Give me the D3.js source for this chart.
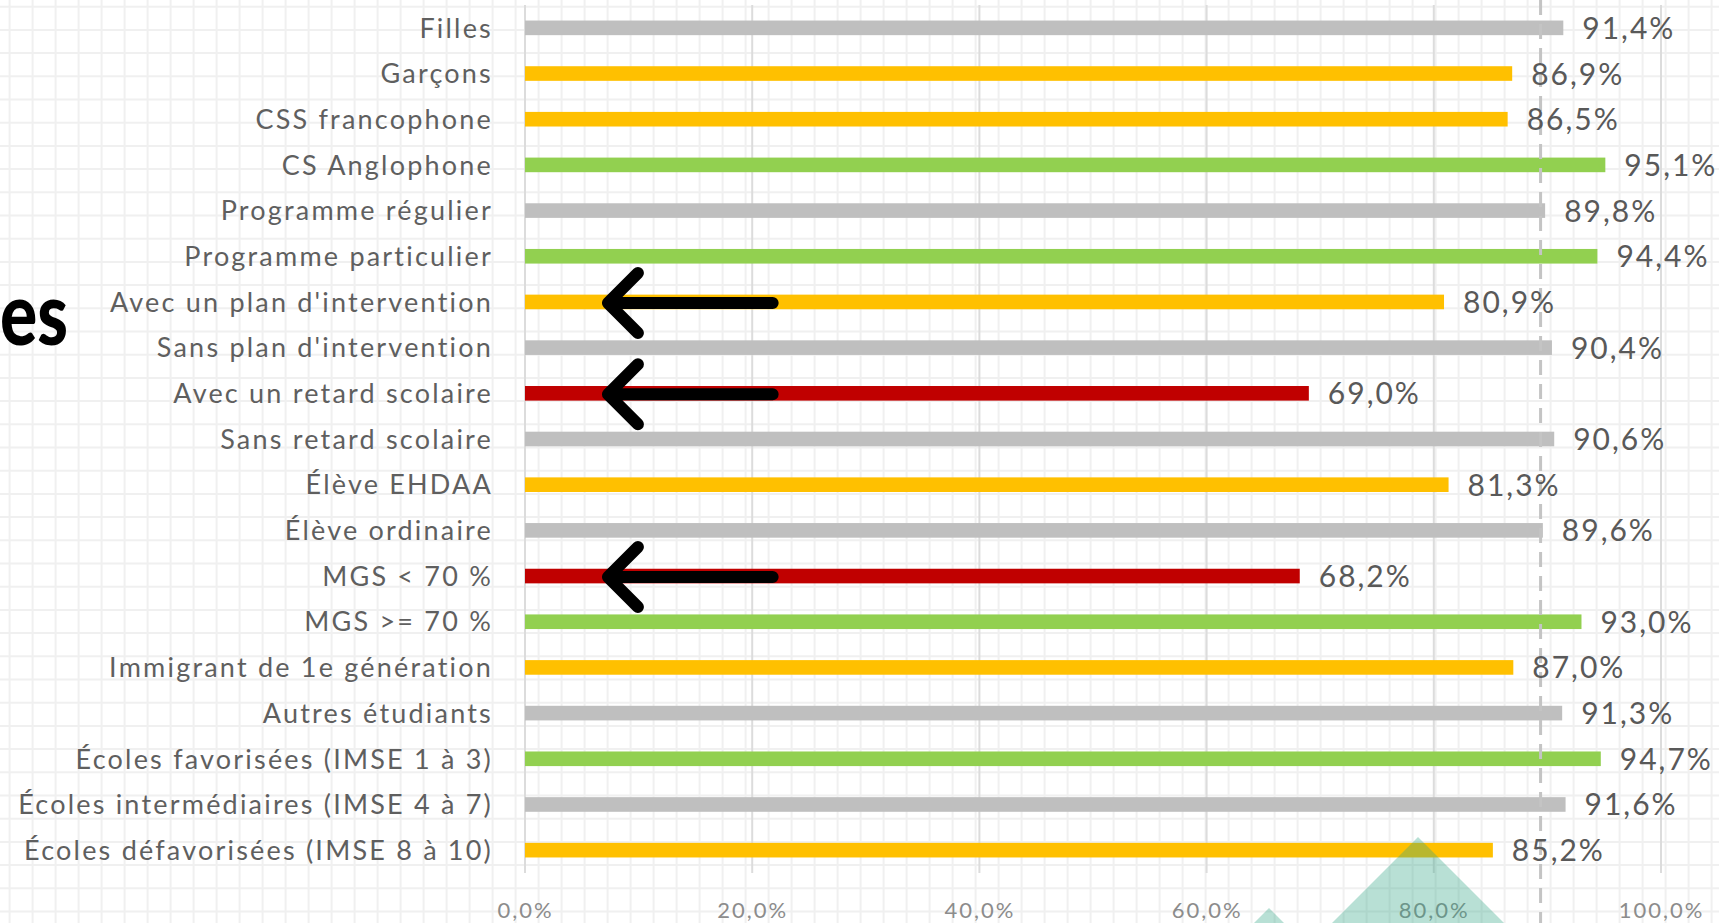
<!DOCTYPE html>
<html lang="fr">
<head>
<meta charset="utf-8">
<script src="https://cdn.jsdelivr.net/npm/d3@7"></script>
<style>
  html, body { margin: 0; padding: 0; background: #ffffff; }
  svg { display: block; }
</style>
</head>
<body>
<svg id="chart" width="1719" height="923"></svg>
<script>
// Taux de diplomation par groupe d'élèves
const categories = [
  "Filles",
  "Garçons",
  "CSS francophone",
  "CS Anglophone",
  "Programme régulier",
  "Programme particulier",
  "Avec un plan d'intervention",
  "Sans plan d'intervention",
  "Avec un retard scolaire",
  "Sans retard scolaire",
  "Élève EHDAA",
  "Élève ordinaire",
  "MGS < 70 %",
  "MGS >= 70 %",
  "Immigrant de 1e génération",
  "Autres étudiants",
  "Écoles favorisées (IMSE 1 à 3)",
  "Écoles intermédiaires (IMSE 4 à 7)",
  "Écoles défavorisées (IMSE 8 à 10)"
];
const values = [91.4, 86.9, 86.5, 95.1, 89.8, 94.4, 80.9, 90.4, 69.0, 90.6,
                81.3, 89.6, 68.2, 93.0, 87.0, 91.3, 94.7, 91.6, 85.2];
// Niveau de chaque groupe par rapport à l'ensemble
const levels = ["neutre", "faible", "faible", "fort", "neutre", "fort", "faible", "neutre", "critique", "neutre",
                "faible", "neutre", "critique", "fort", "faible", "neutre", "fort", "neutre", "faible"];
const tickValues = [0, 20, 40, 60, 80, 100];
const ensemble = 89.4;
const flagged = ["Avec un plan d'intervention", "Avec un retard scolaire", "MGS < 70 %"];

const levelColor = { neutre: "#bfbfbf", faible: "#ffc000", fort: "#92d050", critique: "#c00000" };

const fr = d3.formatLocale({ decimal: ",", thousands: " ", grouping: [3], currency: ["", " €"] });
const pct = v => fr.format(".1f")(v) + "%";

const W = 1719, H = 923;
const FONT = "Lato, 'Open Sans', sans-serif";
const svg = d3.select("#chart");

// Quadrillage de fond
const bg = svg.append("g").attr("class", "background-grid");
bg.selectAll("line.v").data(d3.range(9.6, W, 23)).join("line")
  .attr("x1", d => d).attr("x2", d => d).attr("y1", 0).attr("y2", H)
  .attr("stroke", "#f0f0f0").attr("stroke-width", 2);
bg.selectAll("line.h").data(d3.range(6.7, H, 23.2)).join("line")
  .attr("x1", 0).attr("x2", W).attr("y1", d => d).attr("y2", d => d)
  .attr("stroke", "#f0f0f0").attr("stroke-width", 2);

const x = d3.scaleLinear().domain([0, 100]).range([525, 1661]);
const y = d3.scaleBand().domain(categories).range([5, 873]).paddingInner(0.68).paddingOuter(0.34);

// Lignes de quadrillage principales
svg.append("g").selectAll("line").data(tickValues).join("line")
  .attr("x1", d => x(d)).attr("x2", d => x(d)).attr("y1", 5).attr("y2", 873)
  .attr("stroke", "#dcdcdc").attr("stroke-width", 2);

// Barres
const data = categories.map((c, i) => ({ cat: c, value: values[i], level: levels[i] }));
svg.append("g").selectAll("rect").data(data).join("rect")
  .attr("x", x(0))
  .attr("y", d => y(d.cat))
  .attr("width", d => x(d.value) - x(0))
  .attr("height", y.bandwidth())
  .attr("fill", d => levelColor[d.level]);

// Ligne de référence (ensemble)
svg.append("line")
  .attr("x1", x(ensemble)).attr("x2", x(ensemble)).attr("y1", 0).attr("y2", H)
  .attr("stroke", "#c4c4c4").attr("stroke-width", 3).attr("stroke-dasharray", "15,9");

// Étiquettes de valeurs
svg.append("g").selectAll("text").data(data).join("text")
  .attr("x", d => x(d.value) + 19)
  .attr("y", d => y(d.cat) + y.bandwidth() / 2 + 11)
  .attr("font-family", FONT)
  .attr("font-size", 30)
  .attr("letter-spacing", 2)
  .attr("fill", "#595959")
  .text(d => pct(d.value));

// Axe des catégories
const yAxis = svg.append("g").attr("transform", `translate(${x(0)},0)`)
  .call(d3.axisLeft(y).tickSize(0).tickPadding(32));
yAxis.select(".domain").remove();
yAxis.selectAll("text")
  .attr("font-family", FONT)
  .attr("font-size", 27)
  .attr("letter-spacing", 2.2)
  .attr("fill", "#5f5f5f")
  .attr("dy", "0.36em");

// Axe des pourcentages
const xAxis = svg.append("g").attr("transform", "translate(0,902)")
  .call(d3.axisBottom(x).tickValues(tickValues).tickSize(0).tickPadding(0).tickFormat(pct));
xAxis.select(".domain").remove();
xAxis.selectAll("text")
  .attr("font-family", FONT)
  .attr("font-size", 22)
  .attr("letter-spacing", 2)
  .attr("fill", "#8c8c8c")
  .attr("dy", "0.71em");

// Flèches signalant les groupes à risque
const arrows = svg.append("g").attr("fill", "none").attr("stroke", "#000")
  .attr("stroke-width", 12).attr("stroke-linecap", "round").attr("stroke-linejoin", "round");
flagged.forEach(c => {
  const cy = y(c) + y.bandwidth() / 2 + 1;
  const tip = x(7.3), tail = x(21.8);
  arrows.append("path")
    .attr("d", `M${tail},${cy}L${tip},${cy}M${tip + 30},${cy - 30}L${tip},${cy}L${tip + 30},${cy + 30}`);
});

// Titre de la diapositive (partiellement visible)
svg.append("text")
  .attr("transform", "translate(0,345) scale(0.79,1)")
  .attr("font-family", FONT)
  .attr("font-weight", 900)
  .attr("font-size", 88)
  .attr("fill", "#000")
  .text("es");

// Motif décoratif en bas de la diapositive
const deco = svg.append("g").attr("fill", "rgb(52,166,135)").attr("fill-opacity", 0.35);
deco.append("polygon").attr("points", `1418,837 ${1418 - 88},${H + 2} ${1418 + 88},${H + 2}`);
deco.append("polygon").attr("points", `1269,908 ${1269 - 17},${H + 2} ${1269 + 17},${H + 2}`);
</script>
</body>
</html>
